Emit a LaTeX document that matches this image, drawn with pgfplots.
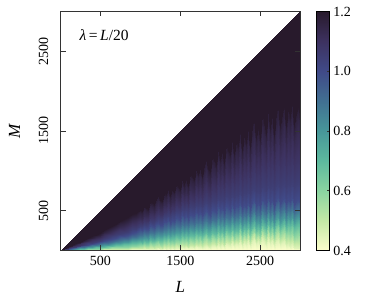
\documentclass[border=0pt]{standalone}
\usepackage{fontspec}
\setmainfont{Liberation Serif}
\usepackage{pgfplots}
\usepackage{pgfplotstable}
\pgfplotsset{compat=1.18}
% M at which the heat-map reaches each value, per L. m=.45 l=.5 k=.6 j=.7 i=.8 g=.9 e=1.0 d=1.05 c=1.09 b=1.13 a=1.17 t=1.2
\pgfplotstableread{
L z m l k j i g e d c b a t u
0 0 0 0 0 0 0 0 0 0 0 0 0 0 0
50 0 0 1 3 4 6 8 11 13 15 18 20 22 50
100 0 1 2 5 8 12 16 21 25 30 35 40 44 100
150 0 1 3 8 13 18 24 32 38 45 52 60 66 150
200 0 2 4 10 17 24 32 42 50 60 70 80 88 200
250 0 2 5 13 21 30 40 52 62 75 88 100 110 250
300 0 2 6 15 25 36 48 63 75 90 105 120 132 300
350 0 3 7 18 29 42 56 74 88 105 122 140 154 350
400 0 3 8 20 34 48 64 84 100 120 140 160 176 400
450 0 4 9 23 38 54 72 95 112 135 158 180 198 450
500 0 4 10 25 42 60 80 105 125 150 175 200 220 500
550 0 5 13 29 48 68 92 122 146 173 202 235 255 550
600 0 5 13 32 52 75 100 132 158 190 225 258 280 600
650 0 7 17 38 60 85 112 150 176 212 248 285 310 650
700 0 7 17 40 64 90 120 158 190 228 265 310 338 700
750 0 8 19 44 70 97 133 178 208 252 295 340 368 750
800 0 10 22 50 78 107 140 188 222 262 312 358 390 800
850 0 10 22 50 80 112 150 200 238 284 333 385 420 850
900 0 13 28 60 92 128 170 225 265 316 368 425 460 900
950 0 13 26 60 94 128 172 228 275 322 378 435 475 950
1000 0 17 34 70 106 147 197 264 305 353 411 484 508 1000
1025 0 14 28 64 99 139 189 254 303 345 399 467 490 1025
1050 0 21 38 78 116 159 214 285 331 385 450 531 558 1050
1075 0 16 33 71 109 152 205 274 326 373 433 507 532 1075
1100 0 15 30 68 106 149 202 271 328 371 430 500 525 1100
1125 0 24 43 88 129 176 235 314 365 423 497 586 615 1125
1150 0 22 40 83 125 171 231 307 364 420 490 574 603 1150
1175 0 17 34 76 118 163 222 295 359 407 473 550 578 1175
1200 0 24 44 90 134 183 247 328 389 449 526 618 649 1200
1225 0 28 50 101 146 197 263 350 409 474 560 659 692 1225
1250 0 21 40 86 130 179 243 324 393 447 521 606 636 1250
1275 0 18 36 82 127 176 239 316 393 443 515 596 626 1275
1300 0 28 51 104 152 206 276 365 433 499 587 689 723 1300
1325 0 24 45 96 144 197 266 355 430 491 576 672 706 1325
1350 0 34 59 115 167 223 297 395 464 539 637 749 786 1350
1375 0 21 42 93 142 196 265 351 434 489 570 661 694 1375
1400 0 29 52 108 160 216 292 386 466 533 627 732 769 1400
1425 0 24 45 100 151 207 281 372 459 519 607 705 740 1425
1450 0 35 63 123 178 238 319 421 500 579 683 801 841 1450
1475 0 30 56 116 170 229 310 407 493 563 663 773 811 1475
1500 0 24 46 102 156 214 291 386 482 543 634 733 770 1500
1525 0 40 71 137 194 257 342 452 537 629 746 877 920 1525
1550 0 29 53 114 169 230 309 409 505 579 680 790 830 1550
1575 0 39 66 132 189 253 335 442 534 624 739 865 908 1575
1600 0 27 50 110 164 226 303 401 503 577 675 782 821 1600
1625 0 42 73 141 198 265 349 461 554 658 782 919 965 1625
1650 0 38 68 133 190 257 339 447 545 644 764 894 939 1650
1675 0 33 58 122 178 244 323 427 533 625 736 857 900 1675
1700 0 51 84 157 215 286 372 491 586 710 850 1003 1053 1700
1725 0 38 67 134 191 259 341 450 556 663 786 918 964 1725
1750 0 48 82 153 212 284 369 486 587 712 852 1003 1053 1750
1775 0 32 58 124 181 249 329 434 549 652 769 894 939 1775
1800 0 49 81 155 213 286 371 489 595 725 867 1020 1071 1800
1825 0 61 99 178 237 313 400 526 626 778 935 1108 1163 1825
1850 0 41 71 142 200 273 355 468 584 708 842 984 1033 1850
1875 0 36 63 133 192 264 343 449 572 689 815 948 996 1875
1900 0 60 97 177 236 315 401 527 634 790 951 1124 1180 1900
1925 0 53 88 166 225 302 388 511 626 778 932 1099 1154 1925
1950 0 42 73 147 207 282 365 480 604 740 881 1029 1080 1950
1975 0 74 114 200 261 344 433 566 675 858 1039 1234 1296 1975
2000 0 50 84 162 222 301 384 505 628 781 934 1096 1151 2000
2025 0 67 106 189 250 332 419 549 665 843 1019 1204 1264 2025
2050 0 41 73 147 208 284 368 483 618 763 910 1060 1113 2050
2075 0 79 120 202 265 348 437 572 691 886 1077 1277 1341 2075
2100 0 66 104 183 245 325 414 541 670 851 1029 1212 1273 2100
2125 0 54 90 165 227 305 393 514 652 821 988 1156 1214 2125
2150 0 94 139 220 284 367 461 598 720 935 1145 1359 1427 2150
2175 0 54 90 163 227 305 392 510 656 828 998 1164 1222 2175
2200 0 80 122 199 263 344 437 567 704 909 1109 1308 1373 2200
2225 0 70 111 186 251 330 421 546 690 885 1075 1261 1324 2225
2250 0 111 160 239 304 388 485 625 756 997 1230 1462 1535 2250
2275 0 58 96 169 235 312 402 520 677 862 1044 1216 1277 2275
2300 0 94 141 216 282 363 458 586 735 962 1181 1394 1464 2300
2325 0 71 114 186 253 332 425 549 707 913 1113 1303 1368 2325
2350 0 116 167 241 308 391 490 627 770 1023 1265 1499 1574 2350
2375 0 60 99 171 239 316 407 526 693 888 1078 1253 1316 2375
2400 0 110 161 234 301 383 482 616 771 1023 1265 1495 1570 2400
2425 0 135 192 263 332 415 516 655 800 1074 1335 1584 1663 2425
2450 0 76 120 191 260 339 435 558 730 950 1164 1358 1426 2450
2475 0 104 154 224 294 374 474 607 772 1025 1267 1491 1566 2475
2500 0 70 114 185 255 333 429 549 728 947 1158 1347 1414 2500
2525 0 135 194 265 336 418 522 663 820 1108 1384 1641 1723 2525
2550 0 106 159 234 305 385 487 620 792 1058 1316 1549 1626 2550
2575 0 72 119 195 268 346 445 565 749 981 1210 1410 1480 2575
2600 0 133 195 277 348 431 537 678 843 1146 1443 1711 1797 2600
2625 0 78 128 209 282 361 462 586 771 1018 1265 1478 1552 2625
2650 0 113 172 258 331 413 518 653 827 1118 1406 1661 1744 2650
2675 0 57 102 186 260 338 436 551 745 971 1201 1392 1462 2675
2700 0 104 162 254 328 409 515 647 826 1115 1404 1655 1738 2700
2725 0 117 182 278 352 434 542 679 854 1164 1476 1747 1834 2725
2750 0 67 116 209 284 363 465 584 781 1033 1291 1504 1579 2750
2775 0 88 146 244 319 400 506 633 824 1108 1400 1644 1726 2775
2800 0 107 171 276 352 433 543 677 862 1177 1498 1770 1858 2800
2825 0 58 107 205 282 360 461 578 783 1033 1295 1505 1580 2825
2850 0 70 131 238 335 416 525 652 846 1147 1458 1714 1800 2850
2875 0 48 102 206 305 384 490 611 815 1090 1379 1610 1691 2875
2900 0 67 133 249 357 438 550 680 874 1196 1531 1806 1896 2900
2925 0 30 78 172 281 360 463 574 788 1040 1322 1516 1592 2925
2950 0 34 89 191 310 390 497 617 827 1110 1410 1645 1727 2950
2975 0 35 97 216 336 416 526 649 856 1161 1485 1742 1829 2975
3000 0 27 81 186 306 385 483 605 819 1095 1391 1617 1698 3000
}\levels
\gdef\meshcoords{}
\newcommand\appendlevel[2]{%
  \foreach \r in {0,...,100}{%
    \pgfplotstablegetelem{\r}{L}\of\levels \let\xv\pgfplotsretval
    \pgfplotstablegetelem{\r}{#1}\of\levels \let\yv\pgfplotsretval
    \xdef\meshcoords{\unexpanded\expandafter{\meshcoords} (\xv,\yv) [#2]}%
  }%
}
\newcommand\plotmesh[1]{\addplot[surf, shader=interp, mesh/cols=101, mesh/ordering=x varies, point meta=explicit] coordinates {#1};}
\begin{document}
\appendlevel{z}{0.4}\appendlevel{m}{0.45}\appendlevel{l}{0.5}\appendlevel{k}{0.6}\appendlevel{j}{0.7}\appendlevel{i}{0.8}\appendlevel{g}{0.9}\appendlevel{e}{1.0}\appendlevel{d}{1.05}\appendlevel{c}{1.09}\appendlevel{b}{1.13}\appendlevel{a}{1.17}\appendlevel{t}{1.2}\appendlevel{u}{1.2}%
\begin{tikzpicture}
\useasboundingbox (-60.5pt,-48.5pt) rectangle (313.5pt,250.5pt);
\begin{axis}[
  at={(0pt,0pt)}, anchor=south west,
  scale only axis, width=239.5pt, height=239pt,
  xmin=0, xmax=3000, ymin=0, ymax=3000,
  axis on top,
  axis line style={black!80, line width=0.9pt},
  xtick={500,1500,2500}, ytick={500,1500,2500},
  tick align=inside, tick pos=both,
  major tick length=5pt,
  tick style={black!80, line width=0.8pt},
  /pgf/number format/assume math mode=true,
  /pgf/number format/1000 sep={},
  tick label style={font=\fontsize{14}{14}\selectfont},
  yticklabel style={rotate=90, anchor=center, yshift=17pt},
  xticklabel style={anchor=center, yshift=-10pt},
  xlabel={\itshape L}, ylabel={\itshape M},
  label style={font=\fontsize{17}{17}\selectfont},
  xlabel style={at={(axis description cs:0.5,0)}, anchor=center, yshift=-36pt},
  ylabel style={at={(axis description cs:0,0.5)}, anchor=center, rotate=0, yshift=46pt},
  colormap={deep}{rgb255=(253,254,204) rgb255=(196,233,166) rgb255=(138,212,161) rgb255=(93,185,158) rgb255=(71,151,153) rgb255=(65,112,146) rgb255=(64,74,136) rgb255=(61,50,96) rgb255=(40,26,44)},
  point meta min=0.4, point meta max=1.2,
  colorbar,
  colorbar style={
    at={(1.07,0)}, anchor=south west,
    width=13pt,
    ytick={0.4,0.6,0.8,1.0,1.2},
    tick pos=right, tick align=inside,
    major tick length=3pt,
    axis line style={black, line width=0.8pt},
    /pgf/number format/assume math mode=true,
    yticklabel style={font=\fontsize{14}{14}\selectfont, /pgf/number format/fixed, /pgf/number format/fixed zerofill, /pgf/number format/precision=1},
  },
]
\expandafter\plotmesh\expandafter{\meshcoords}
\node[anchor=west, font=\fontsize{15.5}{15.5}\selectfont] at (axis cs:195,2700) {{\itshape λ}\,=\,{\itshape L}/20};
\end{axis}
\end{tikzpicture}
\end{document}
